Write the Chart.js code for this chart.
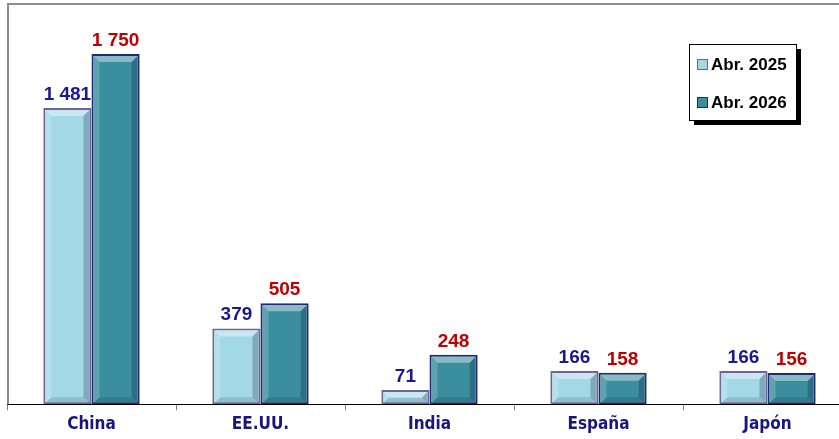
<!DOCTYPE html>
<html>
<head>
<meta charset="utf-8">
<script src="https://cdn.jsdelivr.net/npm/chart.js@4/dist/chart.umd.min.js"></script>
<style>
  html, body { margin: 0; background: #ffffff; overflow: hidden; }
  #caja { width: 852px; height: 439px; position: relative; }
</style>
</head>
<body>
<div id="caja"><canvas id="graficaPaises"></canvas></div>
<script>
const paises = ['China', 'EE.UU.', 'India', 'España', 'Japón'];
const valores2025 = [1481, 379, 71, 166, 166];
const valores2026 = [1750, 505, 248, 158, 156];
const etiquetasSeries = ['Abr. 2025', 'Abr. 2026'];

const coloresRelleno = ['#A3D9E6', '#3B8E9E'];
const coloresBorde = ['#6E6590', '#1E2A72'];
const coloresTexto = ['#1A1A8E', '#C00000'];

function formatoMiles(v) {
    return String(v).replace(/\B(?=(\d{3})+(?!\d))/g, ' ');
}

// marco gris arriba e izquierda
const pluginMarco = {
    id: 'marco',
    beforeDatasetsDraw(grafica) {
        const { ctx, chartArea } = grafica;
        ctx.save();
        ctx.strokeStyle = '#8C8C8C';
        ctx.lineWidth = 2;
        ctx.beginPath();
        ctx.moveTo(chartArea.left + 1, chartArea.bottom);
        ctx.lineTo(chartArea.left + 1, chartArea.top);
        ctx.lineTo(grafica.width, chartArea.top);
        ctx.stroke();
        ctx.restore();
    }
};

// efecto biselado sobre cada barra
const pluginBisel = {
    id: 'bisel',
    afterDatasetsDraw(grafica) {
        const ctx = grafica.ctx;
        ctx.save();
        grafica.data.datasets.forEach((ds, i) => {
            grafica.getDatasetMeta(i).data.forEach((barra) => {
                const l = barra.x - barra.width / 2 + 2;
                const r = barra.x + barra.width / 2 - 2;
                const t = barra.y + 2;
                const b = barra.base - 1;
                const d = Math.min(6, (b - t) / 2);
                if (d <= 0) return;
                const trap = (pts, color) => {
                    ctx.fillStyle = color;
                    ctx.beginPath();
                    ctx.moveTo(pts[0][0], pts[0][1]);
                    for (let k = 1; k < pts.length; k++) ctx.lineTo(pts[k][0], pts[k][1]);
                    ctx.closePath();
                    ctx.fill();
                };
                trap([[l, t], [r, t], [r - d, t + d], [l + d, t + d]], 'rgba(255,255,255,0.40)');
                trap([[l, t], [l + d, t + d], [l + d, b - d], [l, b]], 'rgba(255,255,255,0.18)');
                trap([[r, t], [r, b], [r - d, b - d], [r - d, t + d]], 'rgba(0,0,40,0.22)');
                trap([[l, b], [l + d, b - d], [r - d, b - d], [r, b]], 'rgba(0,0,40,0.12)');
            });
        });
        ctx.restore();
    }
};

// valores encima de las barras
const pluginValores = {
    id: 'valores',
    afterDatasetsDraw(grafica) {
        const ctx = grafica.ctx;
        ctx.save();
        ctx.font = 'bold 19px "Liberation Sans", Arial, sans-serif';
        ctx.textAlign = 'center';
        ctx.textBaseline = 'alphabetic';
        grafica.data.datasets.forEach((ds, i) => {
            ctx.fillStyle = coloresTexto[i];
            grafica.getDatasetMeta(i).data.forEach((barra, j) => {
                ctx.fillText(formatoMiles(ds.data[j]), barra.x, barra.y - 8);
            });
        });
        ctx.restore();
    }
};

// leyenda con sombra dentro del área
const pluginLeyenda = {
    id: 'leyendaCaja',
    afterDraw(grafica) {
        const ctx = grafica.ctx;
        const x = 689, y = 44, w = 107, h = 76;
        ctx.save();
        ctx.fillStyle = '#000000';
        ctx.fillRect(x + 5, y + 5, w, h);
        ctx.fillStyle = '#ffffff';
        ctx.fillRect(x, y, w, h);
        ctx.strokeStyle = '#000000';
        ctx.lineWidth = 1;
        ctx.strokeRect(x + 0.5, y + 0.5, w, h);
        ctx.font = 'bold 17px "Liberation Sans", Arial, sans-serif';
        ctx.textBaseline = 'middle';
        ctx.textAlign = 'left';
        etiquetasSeries.forEach((txt, i) => {
            const cy = y + 20 + i * 38;
            ctx.fillStyle = coloresRelleno[i];
            ctx.fillRect(x + 8, cy - 5, 11, 11);
            ctx.strokeStyle = coloresBorde[i];
            ctx.strokeRect(x + 8.5, cy - 4.5, 10, 10);
            ctx.fillStyle = '#000000';
            ctx.fillText(txt, x + 22, cy + 1);
        });
        ctx.restore();
    }
};

const contexto = document.getElementById('graficaPaises');
new Chart(contexto, {
    type: 'bar',
    data: {
        labels: paises,
        datasets: etiquetasSeries.map((nombre, i) => ({
            label: nombre,
            data: i === 0 ? valores2025 : valores2026,
            backgroundColor: coloresRelleno[i],
            borderColor: coloresBorde[i],
            borderWidth: 2,
            borderSkipped: false,
            categoryPercentage: 0.57,
            barPercentage: 1.0
        }))
    },
    options: {
        responsive: true,
        maintainAspectRatio: false,
        animation: false,
        layout: {
            padding: { left: 7, top: 4, right: 0, bottom: 0 }
        },
        plugins: {
            legend: { display: false },
            tooltip: { enabled: false }
        },
        scales: {
            y: {
                display: false,
                min: 0,
                max: 2000
            },
            x: {
                grid: {
                    display: true,
                    drawOnChartArea: false,
                    tickLength: 6,
                    color: '#7F7F7F'
                },
                border: {
                    display: true,
                    color: '#000000',
                    width: 1
                },
                ticks: {
                    color: '#16167E',
                    padding: 5,
                    font: {
                        family: '"Liberation Sans Narrow", "DejaVu Sans Condensed", "Arial Narrow", sans-serif',
                        size: 17,
                        weight: 'bold',
                        lineHeight: 1.1
                    }
                }
            }
        }
    },
    plugins: [pluginMarco, pluginBisel, pluginValores, pluginLeyenda]
});
</script>
</body>
</html>
